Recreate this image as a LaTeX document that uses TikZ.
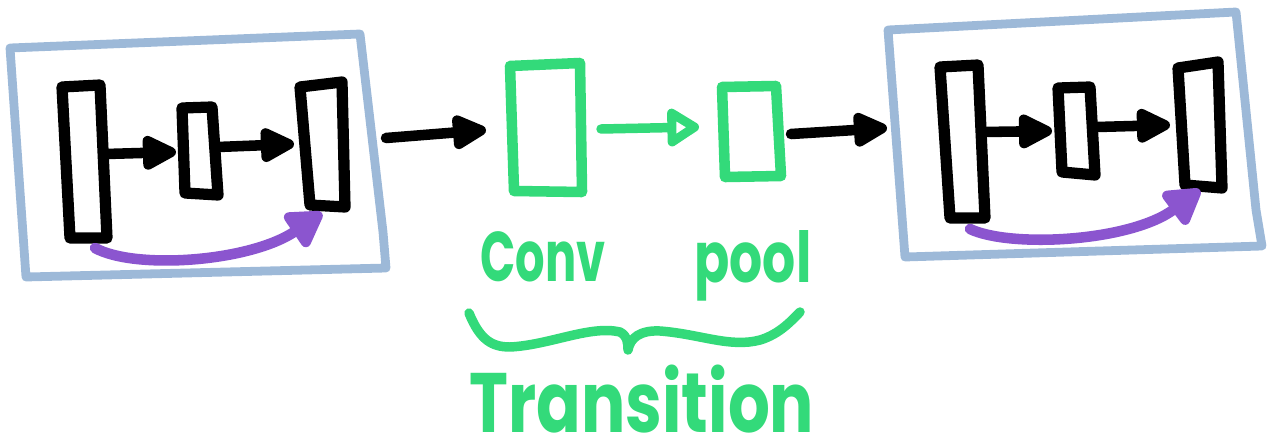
\documentclass[tikz,border=0pt]{standalone}
\usepackage{fontspec}
\usetikzlibrary{arrows.meta}
\newfontfamily\handfont{Poppins}
\definecolor{frameblue}{HTML}{9DB9D8}
\definecolor{convgreen}{HTML}{33DA7A}
\definecolor{skipviolet}{HTML}{8B55CF}
\begin{document}
\begin{tikzpicture}[x=0.02cm,y=-0.02cm,line cap=round,line join=round,
  frame/.style={draw=frameblue,line width=5pt},
  layer/.style={draw=black,line width=6.4pt},
  flow/.style={draw=black,line width=6pt,-{Triangle[length=0.8cm,width=0.74cm,round]}},
  tlayer/.style={draw=convgreen,line width=6pt},
  tflow/.style={draw=convgreen,line width=5.4pt,-{Triangle[open,length=0.72cm,width=0.85cm,round]}},
  skip/.style={draw=skipviolet,line width=6pt,-{Triangle[length=0.8cm,width=0.9cm,round]}},
  tag/.style={text=convgreen,inner sep=0pt,anchor=base,text depth=0pt}]
\useasboundingbox (0,0) rectangle (1273,446);

% ---------- first dense block ----------
\draw[frame] (10,48) -- (360,34) -- (383,232) -- (386,268) -- (26,277) -- cycle;
\coordinate (a1tl) at (62,87);  \coordinate (a1tr) at (100,85);
\coordinate (a1br) at (107,238); \coordinate (a1bl) at (70,238);
\coordinate (a2tl) at (182,108); \coordinate (a2tr) at (212,107);
\coordinate (a2br) at (218,195); \coordinate (a2bl) at (185,193);
\coordinate (a3tl) at (300,87);  \coordinate (a3tr) at (342,82);
\coordinate (a3br) at (345,207); \coordinate (a3bl) at (310,205);
\draw[layer] (a1tl) -- (a1tr) -- (a1br) -- (a1bl) -- cycle;
\draw[layer] (a2tl) -- (a2tr) -- (a2br) -- (a2bl) -- cycle;
\draw[layer] (a3tl) -- (a3tr) -- (a3br) -- (a3bl) -- cycle;
\coordinate (a1out) at (106,154); \coordinate (a2in) at (176,152);
\coordinate (a2out) at (218,147); \coordinate (a3in) at (294,144);
\draw[flow] (a1out) -- (a2in);
\draw[flow] (a2out) -- (a3in);
\coordinate (askipA) at (95,248); \coordinate (askipB) at (322,213);
\draw[skip] (askipA) .. controls (135,270) and (250,262) .. (askipB);

% ---------- transition ----------
\coordinate (aout) at (386,138); \coordinate (cin) at (486,130);
\draw[flow] (aout) -- (cin);
\coordinate (ctl) at (510,66);  \coordinate (ctr) at (580,63);
\coordinate (cbr) at (582,192); \coordinate (cbl) at (514,191);
\draw[tlayer] (ctl) -- (ctr) -- (cbr) -- (cbl) -- cycle;
\coordinate (cout) at (601,129); \coordinate (pin) at (699,127);
\draw[tflow] (cout) -- (pin);
\coordinate (ptl) at (722,87);  \coordinate (ptr) at (776,86);
\coordinate (pbr) at (781,176); \coordinate (pbl) at (725,177);
\draw[tlayer] (ptl) -- (ptr) -- (pbr) -- (pbl) -- cycle;
\coordinate (pout) at (791,134); \coordinate (bin) at (887,128);
\draw[flow] (pout) -- (bin);

\node[tag,font=\handfont\bfseries\fontsize{40}{40}\selectfont,xscale=0.66] (conv) at (543,281) {Conv};
\node[tag,font=\handfont\bfseries\fontsize{40}{40}\selectfont,xscale=0.74] (pool) at (753,282) {pool};
\draw[tlayer,line width=5.4pt] (469,313) .. controls (480,340) and (492,347) .. (510,347)
  .. controls (550,345) and (590,325) .. (620,332) .. controls (628,336) and (628,345) .. (628,350)
  .. controls (630,338) and (640,330) .. (660,331) .. controls (700,334) and (730,348) .. (760,340)
  .. controls (780,334) and (792,320) .. (800,312);
\node[tag,font=\handfont\bfseries\fontsize{48}{48}\selectfont,xscale=0.78] (trans) at (642,432) {Transition};

% ---------- second dense block ----------
\draw[frame] (888,30) -- (1236,12) -- (1256,210) -- (1262,246) -- (905,257) -- cycle;
\coordinate (b1tl) at (940,67);  \coordinate (b1tr) at (978,65);
\coordinate (b1br) at (985,218); \coordinate (b1bl) at (950,218);
\coordinate (b2tl) at (1058,88); \coordinate (b2tr) at (1090,87);
\coordinate (b2br) at (1095,175); \coordinate (b2bl) at (1062,172);
\coordinate (b3tl) at (1178,68); \coordinate (b3tr) at (1218,62);
\coordinate (b3br) at (1222,188); \coordinate (b3bl) at (1185,185);
\draw[layer] (b1tl) -- (b1tr) -- (b1br) -- (b1bl) -- cycle;
\draw[layer] (b2tl) -- (b2tr) -- (b2br) -- (b2bl) -- cycle;
\draw[layer] (b3tl) -- (b3tr) -- (b3br) -- (b3bl) -- cycle;
\coordinate (b1out) at (983,132); \coordinate (b2in) at (1052,131);
\coordinate (b2out) at (1097,127); \coordinate (b3in) at (1170,125);
\draw[flow] (b1out) -- (b2in);
\draw[flow] (b2out) -- (b3in);
\coordinate (bskipA) at (970,229); \coordinate (bskipB) at (1200,190);
\draw[skip] (bskipA) .. controls (1010,248) and (1130,242) .. (bskipB);
\end{tikzpicture}
\end{document}
